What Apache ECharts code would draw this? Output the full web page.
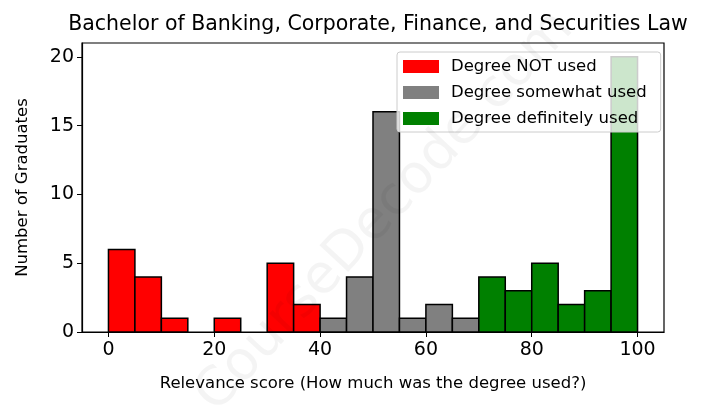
<!DOCTYPE html>
<html><head><meta charset="utf-8">
<script src="https://cdn.jsdelivr.net/npm/echarts@6/dist/echarts.min.js"></script>
<style>html,body{margin:0;padding:0;background:#fff}#c{width:703px;height:408px}</style>
</head><body><div id="c"></div>
<script>
const titleText = 'Bachelor of Banking, Corporate, Finance, and Securities Law';
const xName = 'Relevance score (How much was the degree used?)';
const yName = 'Number of Graduates';
const binWidth = 5;
const notUsedStarts = [0, 5, 10, 15, 20, 25, 30, 35];
const notUsedCounts = [6, 4, 1, 0, 1, 0, 5, 2];
const somewhatStarts = [40, 45, 50, 55, 60, 65];
const somewhatCounts = [1, 4, 16, 1, 2, 1];
const definitelyStarts = [70, 75, 80, 85, 90, 95];
const definitelyCounts = [4, 3, 5, 2, 3, 20];
const xTicks = [0, 20, 40, 60, 80, 100];
const yTicks = [0, 5, 10, 15, 20];
const seriesNames = ['Degree NOT used', 'Degree somewhat used', 'Degree definitely used'];
const seriesColors = ['#ff0000', '#808080', '#008000'];

const FONT = 'DejaVu Sans';
function makeSeries(name, color, starts, counts) {
  return {
    type: 'custom', name: name, z: 2,
    itemStyle: { color: color },
    data: starts.map((s, i) => [s, s + binWidth, counts[i]]),
    renderItem: function (params, api) {
      const y = api.value(2);
      if (!y) return null;
      const p0 = api.coord([api.value(0), y]);
      const p1 = api.coord([api.value(1), 0]);
      return { type: 'rect',
        shape: { x: p0[0], y: p0[1], width: p1[0] - p0[0], height: p1[1] - p0[1] },
        style: { fill: color, stroke: '#000', lineWidth: 1.5 } };
    }
  };
}
const chart = echarts.init(document.getElementById('c'), null, { renderer: 'canvas' });
chart.setOption({
  animation: false,
  title: { text: titleText, left: 373, top: 9, textAlign: 'center',
    textStyle: { fontFamily: FONT, fontSize: 20.5, fontWeight: 'normal', color: '#000' } },
  graphic: [{ type: 'text', rotation: Math.PI * 47 / 180,
    x: 385, y: 212, style: { text: 'CourseDecode.com', fontFamily: FONT, fontSize: 54,
      fill: 'rgba(0,0,0,0.045)', align: 'center', verticalAlign: 'middle' }, z: 100 }],
  legend: { orient: 'vertical', left: 397, top: 52, padding: [6, 14, 5, 6], itemGap: 9, z: 10,
    itemWidth: 36, itemHeight: 13, icon: 'rect',
    backgroundColor: 'rgba(255,255,255,0.8)', borderColor: '#cccccc', borderWidth: 1, borderRadius: 3,
    textStyle: { fontFamily: FONT, fontSize: 16.5, color: '#000', padding: [0, 0, 0, 7] },
    data: seriesNames },
  grid: { left: 82, right: 39, top: 43, bottom: 76, show: true, borderColor: '#000', borderWidth: 1.2, containLabel: false },
  xAxis: { type: 'value', min: -5, max: 105, name: xName, nameLocation: 'middle', nameGap: 43,
    nameTextStyle: { fontFamily: FONT, fontSize: 16.5, color: '#000' },
    axisLine: { show: true, onZero: false, lineStyle: { color: '#000', width: 1.2 } },
    axisTick: { show: true, length: 5, customValues: xTicks, lineStyle: { color: '#000' } },
    axisLabel: { customValues: xTicks, fontFamily: FONT, fontSize: 19, color: '#000', margin: 9 },
    splitLine: { show: false } },
  yAxis: { type: 'value', min: 0, max: 21, name: yName, nameLocation: 'middle', nameGap: 51,
    nameTextStyle: { fontFamily: FONT, fontSize: 16.5, color: '#000' },
    axisLine: { show: true, onZero: false, lineStyle: { color: '#000', width: 1.2 } },
    axisTick: { show: true, length: 5, customValues: yTicks, lineStyle: { color: '#000' } },
    axisLabel: { customValues: yTicks, fontFamily: FONT, fontSize: 19, color: '#000', margin: 8 },
    splitLine: { show: false } },
  series: [
    makeSeries(seriesNames[0], seriesColors[0], notUsedStarts, notUsedCounts),
    makeSeries(seriesNames[1], seriesColors[1], somewhatStarts, somewhatCounts),
    makeSeries(seriesNames[2], seriesColors[2], definitelyStarts, definitelyCounts)
  ]
});
</script></body></html>
